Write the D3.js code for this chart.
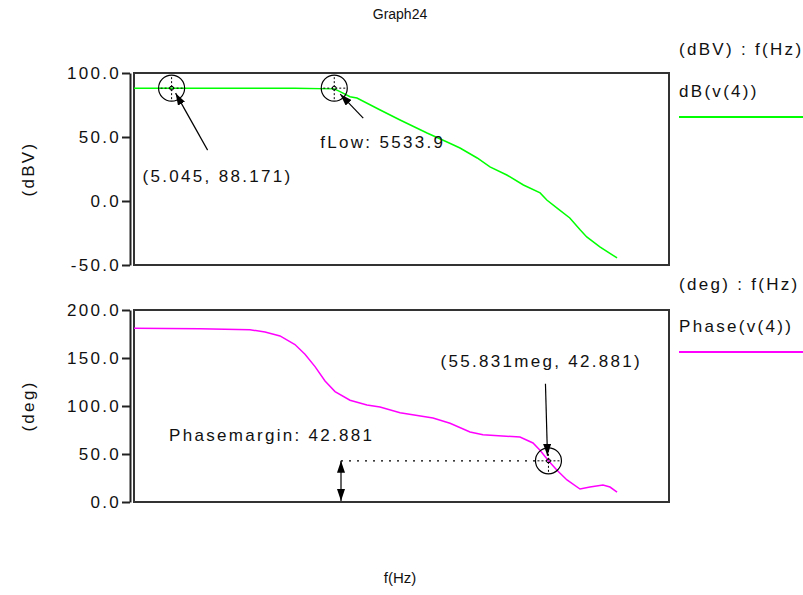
<!DOCTYPE html>
<meta charset="utf-8">
<head>
  <script src="https://d3js.org/d3.v7.min.js"></script>
  <style>
    body { margin: 0; background: #fff; }
    text { font-family: "Liberation Sans", Arial, sans-serif; fill: #111; }
    .lbl { font-size: 17px; letter-spacing: 2.3px; }
  </style>
</head>
<body>
<div id="container"></div>
<script>
// ---- data ----
var magFreq = [1, 5.045, 100, 1000, 5533.9, 7100, 10900, 14700, 40000, 94000, 300000, 710000,
  1.24e6, 2.6e6, 4.5e6, 9.3e6, 1.9e7, 3.9e7, 5.2e7, 8.1e7, 1.4e8, 2.2e8, 2.9e8, 5.1e8, 1.07e9];
var magDb = [88.171, 88.171, 88.171, 88.17, 87.6, 85.5, 81.5, 80.5, 71.1, 63.3, 53.1, 46.1,
  41.4, 33.6, 26.6, 20.3, 12.5, 6.3, 0.8, -5.5, -13.3, -22.7, -28.1, -35.9, -44.5];

var phFreq = [1, 17, 147, 281, 536, 1020, 1570, 2420, 3720, 5720, 10900, 22600, 39600, 94000,
  388000, 807000, 1.91e6, 3.33e6, 1.64e7, 2.87e7, 3.88e7, 5.5831e7, 8.07e7, 1.24e8, 2.17e8,
  3.33e8, 5.83e8, 7.89e8, 1.07e9];
var phDeg = [181, 180.5, 179.5, 177, 173, 164, 154, 141, 126, 115, 106, 101, 99, 93,
  87.5, 82, 73, 70, 67.7, 61.5, 54, 42.881, 33, 23, 13.5, 15.6, 17.7, 15.6, 10.4];

var magTicks = [100, 50, 0, -50];
var phTicks = [200, 150, 100, 50, 0];

var startPoint = { f: 5.045, v: 88.171 };
var fLow = { f: 5533.9, v: 88.171 };
var pmPoint = { f: 55.831e6, v: 42.881 };
var pmRefFreq = 7400;  // where the phase margin arrow is drawn

var width = 803, height = 595;

var svg = d3.select("#container").append("svg")
  .attr("width", width).attr("height", height);

svg.append("rect").attr("width", width).attr("height", height).attr("fill", "#fff");

var defs = svg.append("defs");
defs.append("marker")
  .attr("id", "head")
  .attr("viewBox", "0 0 12 8")
  .attr("refX", 12).attr("refY", 4)
  .attr("markerWidth", 12).attr("markerHeight", 8)
  .attr("markerUnits", "userSpaceOnUse")
  .attr("orient", "auto-start-reverse")
  .append("path").attr("d", "M0,0L12,4L0,8Z").attr("fill", "#000");

var x = d3.scaleLog().domain([1, 1e10]).range([134, 669]);
var yMag = d3.scaleLinear().domain([-50, 100]).range([265, 73]);
var yPh = d3.scaleLinear().domain([0, 200]).range([502, 310]);

svg.append("text").attr("x", 400).attr("y", 19).attr("text-anchor", "middle")
  .style("font-size", "14px").text("Graph24");

function panel(y, ticks, color, fs, vs, yLabel, legendUnits, legendName, legendY) {
  var top = y.range()[1], bot = y.range()[0];
  svg.append("rect")
    .attr("x", 134).attr("y", top).attr("width", 535).attr("height", bot - top)
    .attr("fill", "none").attr("stroke", "#333").attr("stroke-width", 2);

  var ax = svg.append("g").attr("transform", "translate(130,0)")
    .call(d3.axisLeft(y).tickValues(ticks).tickSize(8).tickSizeOuter(0).tickPadding(1)
      .tickFormat(function (d) { return d.toFixed(1); }));
  ax.select(".domain").attr("stroke", "#222").attr("stroke-width", 2);
  ax.selectAll(".tick line").attr("stroke", "#222").attr("stroke-width", 2);
  ax.selectAll(".tick text").attr("class", "lbl").attr("fill", "#111")
    .style("font-family", "Liberation Sans, Arial, sans-serif").attr("font-size", null);

  svg.append("text").attr("class", "lbl")
    .attr("transform", "translate(34," + ((top + bot) / 2) + ") rotate(-90)")
    .attr("text-anchor", "middle").text(yLabel);

  var line = d3.line()
    .x(function (d, i) { return x(fs[i]); })
    .y(function (d) { return y(d); });
  svg.append("path").datum(vs).attr("d", line)
    .attr("fill", "none").attr("stroke", color).attr("stroke-width", 1.5);

  svg.append("text").attr("class", "lbl").attr("x", 679).attr("y", legendY)
    .attr("dy", "0.35em").text(legendUnits);
  svg.append("text").attr("class", "lbl").attr("x", 679).attr("y", legendY + 42)
    .attr("dy", "0.35em").text(legendName);
  svg.append("line").attr("x1", 679).attr("x2", 803)
    .attr("y1", legendY + 68).attr("y2", legendY + 68)
    .attr("stroke", color).attr("stroke-width", 2);
}

panel(yMag, magTicks, "#00ff00", magFreq, magDb, "(dBV)", "(dBV) : f(Hz)", "dB(v(4))", 49);
panel(yPh, phTicks, "#ff00ff", phFreq, phDeg, "(deg)", "(deg) : f(Hz)", "Phase(v(4))", 284);

svg.append("text").attr("x", 400).attr("y", 583).attr("text-anchor", "middle")
  .style("font-size", "15px").text("f(Hz)");

function target(cx, cy) {
  var g = svg.append("g");
  g.append("circle").attr("cx", cx).attr("cy", cy).attr("r", 13)
    .attr("fill", "none").attr("stroke", "#000").attr("stroke-width", 1.2);
  g.append("line").attr("x1", cx - 11).attr("x2", cx + 11).attr("y1", cy).attr("y2", cy)
    .attr("stroke", "#000").attr("stroke-dasharray", "2,2");
  g.append("line").attr("x1", cx).attr("x2", cx).attr("y1", cy - 11).attr("y2", cy + 11)
    .attr("stroke", "#000").attr("stroke-dasharray", "2,2");
  g.append("circle").attr("cx", cx).attr("cy", cy).attr("r", 2)
    .attr("fill", "none").attr("stroke", "#000");
}

function arrow(x1, y1, x2, y2, both) {
  var l = svg.append("line").attr("x1", x1).attr("y1", y1).attr("x2", x2).attr("y2", y2)
    .attr("stroke", "#000").attr("stroke-width", 1.2).attr("marker-end", "url(#head)");
  if (both) l.attr("marker-start", "url(#head)");
}

// start point marker
var p1x = x(startPoint.f), p1y = yMag(startPoint.v);
target(p1x, p1y);
arrow(p1x + 36, p1y + 62, p1x + 4, p1y + 5);
svg.append("text").attr("class", "lbl").attr("x", p1x - 29).attr("y", p1y + 88)
  .attr("dy", "0.35em").text("(" + startPoint.f + ", " + startPoint.v + ")");

// fLow marker
var p2x = x(fLow.f), p2y = yMag(fLow.v);
target(p2x, p2y);
arrow(p2x + 29, p2y + 30, p2x + 6, p2y + 6);
svg.append("text").attr("class", "lbl").attr("x", p2x - 14).attr("y", p2y + 54)
  .attr("dy", "0.35em").text("fLow: " + fLow.f);

// phase margin marker
var p3x = x(pmPoint.f), p3y = yPh(pmPoint.v);
target(p3x, p3y);
arrow(p3x - 3, p3y - 77, p3x - 1, p3y - 5);
svg.append("text").attr("class", "lbl").attr("x", p3x - 108).attr("y", p3y - 100)
  .attr("dy", "0.35em").text("(55.831meg, " + pmPoint.v + ")");

var rx = x(pmRefFreq);
svg.append("line").attr("x1", rx).attr("x2", p3x - 13).attr("y1", p3y).attr("y2", p3y)
  .attr("stroke", "#000").attr("stroke-width", 1.2).attr("stroke-dasharray", "2,6");
arrow(rx, yPh(0) - 1, rx, p3y, true);
svg.append("text").attr("class", "lbl").attr("x", 169).attr("y", 435)
  .attr("dy", "0.35em").text("Phasemargin: " + pmPoint.v);
</script>
</body>
